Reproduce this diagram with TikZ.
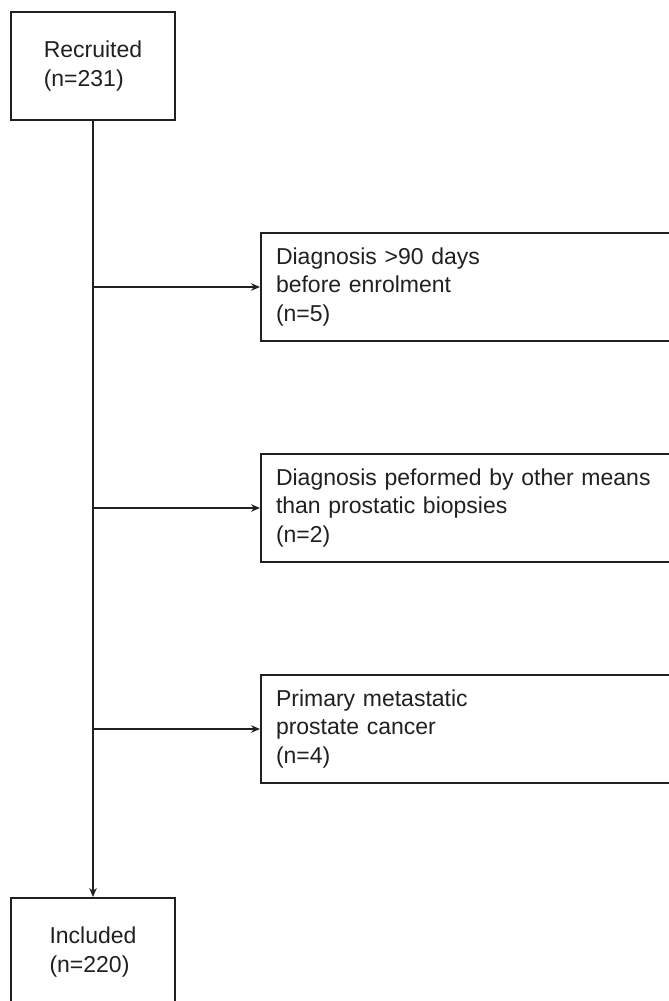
\documentclass[tikz,border=0pt]{standalone}
\usepackage{fontspec}
\setmainfont{Liberation Sans}
\usetikzlibrary{arrows.meta}
\definecolor{ink}{RGB}{35,31,32}

\begin{document}
\begin{tikzpicture}
  [x = 1pt, y = -1pt, >= {Stealth[length=9pt, width=7.5pt]}, line width = 1.3pt, color = ink,
   stage/.style = {draw, line width = 2pt, minimum width = 164pt,
     minimum height = 108pt, align = left,
     font = \fontsize{23}{28.5}\selectfont},
   excl/.style = {draw, line width = 2pt, anchor = west,
     text width = 400pt, minimum height = 108pt, inner xsep = 15pt,
     align = left, font = \fontsize{23}{28.5}\selectfont}]
  \useasboundingbox (0,0) rectangle (669,1001);
  \clip (0,0) rectangle (669,1001);
  % main flow
  \node[stage] (recruited) at (93,66) {Recruited\\(n=231)};
  \node[stage] (included) at (93,952) {Included\\(n=220)};
  % exclusions
  \node[excl] (late) at (260,287) {Diagnosis >90 days\\before enrolment\\(n=5)};
  \node[excl] (other) at (260,508) {Diagnosis peformed by other means\\than prostatic biopsies\\(n=2)};
  \node[excl] (meta) at (260,729) {Primary metastatic\\prostate cancer\\(n=4)};
  \draw[->] (recruited) -- (included);
  \draw[->] (recruited.south |- late) -- (late);
  \draw[->] (recruited.south |- other) -- (other);
  \draw[->] (recruited.south |- meta) -- (meta);
\end{tikzpicture}
\end{document}
